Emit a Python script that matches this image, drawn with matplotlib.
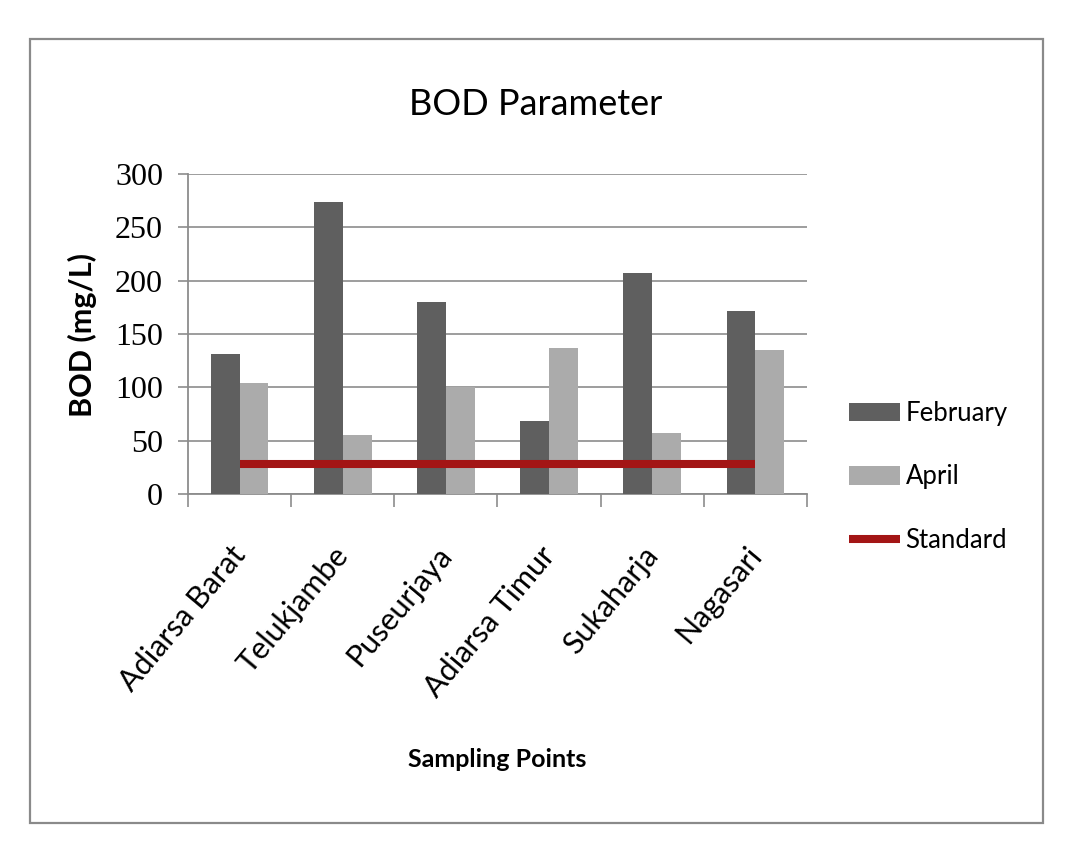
import matplotlib
matplotlib.use("Agg")
import matplotlib.pyplot as plt
from matplotlib.patches import Rectangle
from matplotlib.transforms import ScaledTranslation
import numpy as np

# ---- data ----
categories = ["Adiarsa Barat", "Telukjambe", "Puseurjaya", "Adiarsa Timur", "Sukaharja", "Nagasari"]
february = [131, 274, 180, 68, 207, 172]
april = [104, 55, 100, 137, 57, 135]
standard = [28, 28, 28, 28, 28, 28]
yticks = [0, 50, 100, 150, 200, 250, 300]

W, H = 1073, 859
fig = plt.figure(figsize=(W / 100, H / 100), dpi=100)
fig.patch.set_facecolor("white")

# outer chart border
fig.add_artist(Rectangle((30 / W, 1 - 823 / H), (1043 - 30) / W, (823 - 39) / H,
                         transform=fig.transFigure, facecolor="white",
                         edgecolor="#8a8a8a", linewidth=1.6, zorder=0))

ax = fig.add_axes([188 / W, 1 - 494 / H, (807 - 188) / W, 320 / H])
ax.set_facecolor("none")

x = np.arange(len(categories))
bw = 0.28
h_feb = ax.bar(x - bw / 2, february, width=bw, color="#5f5f5f", label="February", zorder=3)
h_apr = ax.bar(x + bw / 2, april, width=bw, color="#ababab", label="April", zorder=3)
h_std, = ax.plot(x, standard, color="#a31515", linewidth=5.8, solid_capstyle="butt",
                 label="Standard", zorder=4)

ax.set_xlim(-0.5, len(categories) - 0.5)
ax.set_ylim(0, 300)
ax.set_yticks(yticks)
ax.set_yticklabels([str(v) for v in yticks], family="Liberation Serif", fontsize=23)
ax.yaxis.grid(True, color="#8c8c8c", linewidth=1.2, zorder=1)
ax.set_axisbelow(True)

for s in ["top", "right"]:
    ax.spines[s].set_visible(False)
for s in ["left", "bottom"]:
    ax.spines[s].set_color("#8c8c8c")
    ax.spines[s].set_linewidth(1.3)

ax.tick_params(axis="y", length=7.2, width=1.2, color="#8c8c8c", pad=10.8)

# x: labels at centers, ticks at boundaries
ax.set_xticks(x)
ax.set_xticklabels(categories, family="Lato", fontsize=22, rotation=50,
                   ha="right", va="top", rotation_mode="anchor")
ax.tick_params(axis="x", which="major", length=0, pad=34)
ax.set_xticks(np.arange(-0.5, len(categories), 1.0), minor=True)
ax.tick_params(axis="x", which="minor", length=9, width=1.2, color="#8c8c8c")
off = ScaledTranslation(-10 / 100, 0, fig.dpi_scale_trans)
for lab in ax.get_xticklabels():
    lab.set_transform(lab.get_transform() + off)

# titles
fig.text(536 / W, 1 - 115 / H, "BOD Parameter", family="Lato", fontsize=26,
         ha="center", va="baseline")
fig.text(82 / W, 1 - 334.5 / H, "BOD (mg/L)", family="Lato", fontweight="bold",
         fontsize=22, rotation=90, ha="center", va="center")
fig.text(497 / W, 1 - 767 / H, "Sampling Points", family="Lato", fontweight="bold",
         fontsize=18, ha="center", va="baseline")

# legend
leg = fig.legend(handles=[h_feb, h_apr, h_std], labels=["February", "April", "Standard"],
                 loc="center left", bbox_to_anchor=(849 / W, 1 - 477 / H),
                 bbox_transform=fig.transFigure, frameon=False,
                 prop={"family": "Lato", "size": 18.5}, handlelength=2.0,
                 handleheight=0.75, handletextpad=0.2, labelspacing=1.5,
                 borderpad=0, borderaxespad=0)

fig.savefig("out.png", dpi=100, facecolor="white")
